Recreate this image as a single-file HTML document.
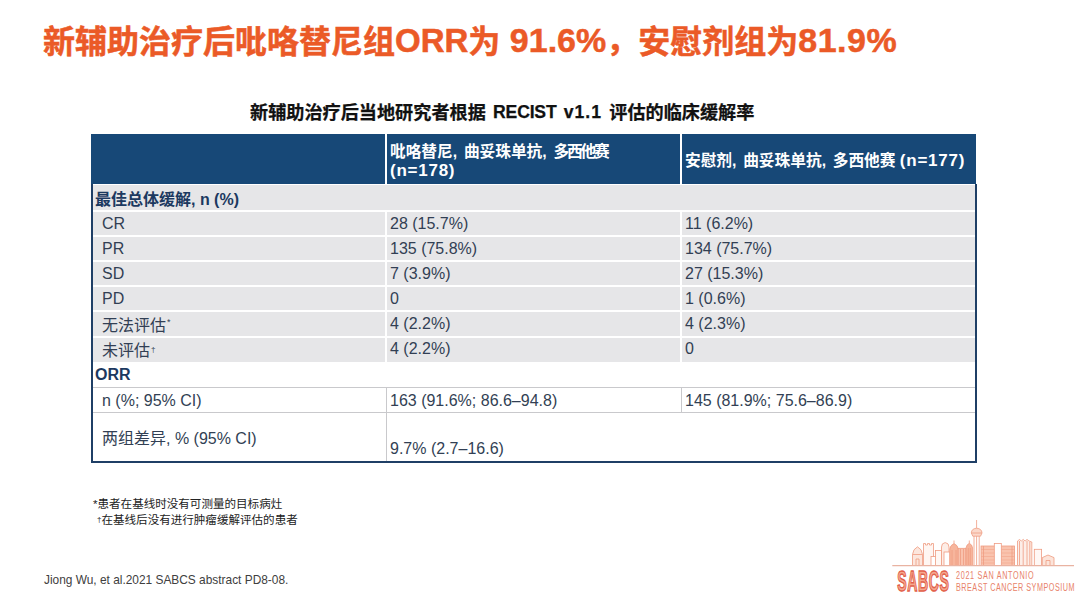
<!DOCTYPE html>
<html><head><meta charset="utf-8">
<style>
*{margin:0;padding:0;box-sizing:border-box}
html,body{width:1080px;height:597px;background:#fff;overflow:hidden}
body{position:relative;font-family:"Liberation Sans","Noto Sans CJK SC",sans-serif}
.abs{position:absolute;white-space:nowrap}
#title{left:43px;top:18px;font-size:32px;font-weight:bold;color:#EB5A27;-webkit-text-stroke:0.5px #EB5A27;line-height:46px}
#title .L{font-size:34px;position:relative;top:-1.5px}
#sub{left:250px;top:100.5px;font-size:18.15px;font-weight:bold;color:#111;-webkit-text-stroke:0.25px #111;line-height:24px}
#sub .L{font-size:17.6px;word-spacing:2.6px;letter-spacing:-0.2px;position:relative;top:-0.8px}
.hdr{position:absolute;top:134px;height:50px;background:#174877}
.htxt{position:absolute;color:#fff;font-weight:bold;font-size:15.7px;line-height:19px}
.htxt .c{letter-spacing:1.2px}
.htxt .L{font-size:17px;letter-spacing:0.75px}
.row{position:absolute;left:93px;width:882px;height:25px}
.g{background:#E6E6E8}
.hl{position:absolute;left:93px;width:882px;height:2px;background:#fff}
.vd{position:absolute;width:2px;background:#fff}
.cell{position:absolute;font-size:16px;color:#323F54;line-height:25px}
.b{font-weight:bold;color:#1C3960}
.sp{position:relative;font-size:8px;margin-left:1px}
.fn{font-size:11.55px;color:#222;line-height:16px}
</style></head><body>
<div id="title" class="abs">新辅助治疗后吡咯替尼组<span class="L" style="font-size:33px">ORR</span>为<span class="L"> 91.6%</span><span style="position:relative;top:-2px">，</span>安慰剂组为<span class="L" style="letter-spacing:0.5px">81.9%</span></div>
<div id="sub" class="abs">新辅助治疗后当地研究者根据<span class="L"> RECIST <span style="letter-spacing:1px">v1.1</span> </span>评估的临床缓解率</div>

<!-- header -->
<div class="hdr" style="left:91px;width:294px"></div>
<div class="hdr" style="left:387px;width:293px"></div>
<div class="hdr" style="left:682px;width:294px"></div>
<div class="htxt abs" style="left:390px;top:142px">吡咯替尼<span class="c">, </span>曲妥珠单抗<span class="c">, </span><span style="letter-spacing:-2.2px">多西他</span>赛<br><span class="L">(n=178)</span></div>
<div class="htxt abs" style="left:685px;top:151px">安慰剂<span class="c">, </span>曲妥珠单抗<span class="c">, </span>多西他赛 <span class="L">(n=177)</span></div>

<!-- grey rows -->
<div class="abs" style="left:93px;top:185px;width:882px;height:177px;background:#E6E6E8"></div>
<div class="hl" style="top:210px"></div>
<div class="hl" style="top:235px"></div>
<div class="hl" style="top:260px"></div>
<div class="hl" style="top:285px"></div>
<div class="hl" style="top:310px"></div>
<div class="hl" style="top:336px"></div>
<div class="vd" style="left:385px;top:211px;height:151px"></div>
<div class="vd" style="left:680px;top:211px;height:151px"></div>
<!-- white rows lines -->
<div class="abs" style="left:93px;top:387px;width:882px;height:1px;background:#C9C9CC"></div>
<div class="abs" style="left:93px;top:412px;width:882px;height:1px;background:#C9C9CC"></div>
<div class="abs" style="left:386px;top:387px;width:1px;height:75px;background:#C9C9CC"></div>
<div class="abs" style="left:681px;top:387px;width:1px;height:25px;background:#C9C9CC"></div>
<!-- borders -->
<div class="abs" style="left:91px;top:184px;width:2px;height:279px;background:#1F3F66"></div>
<div class="abs" style="left:975px;top:184px;width:2px;height:279px;background:#1F3F66"></div>
<div class="abs" style="left:91px;top:461px;width:886px;height:2px;background:#1F3F66"></div>

<!-- cells -->
<div class="cell b abs" style="left:95px;top:187px">最佳总体缓解, n (%)</div>
<div class="cell abs" style="left:102px;top:211px">CR</div>
<div class="cell abs" style="left:390px;top:211px">28 (15.7%)</div>
<div class="cell abs" style="left:685px;top:211px">11 (6.2%)</div>
<div class="cell abs" style="left:102px;top:236px">PR</div>
<div class="cell abs" style="left:390px;top:236px">135 (75.8%)</div>
<div class="cell abs" style="left:685px;top:236px">134 (75.7%)</div>
<div class="cell abs" style="left:102px;top:261px">SD</div>
<div class="cell abs" style="left:390px;top:261px">7 (3.9%)</div>
<div class="cell abs" style="left:685px;top:261px">27 (15.3%)</div>
<div class="cell abs" style="left:102px;top:286px">PD</div>
<div class="cell abs" style="left:390px;top:286px">0</div>
<div class="cell abs" style="left:685px;top:286px">1 (0.6%)</div>
<div class="cell abs" style="left:102px;top:312.5px">无法评估<span class="sp" style="top:-6px;font-size:9px">*</span></div>
<div class="cell abs" style="left:390px;top:311px">4 (2.2%)</div>
<div class="cell abs" style="left:685px;top:311px">4 (2.3%)</div>
<div class="cell abs" style="left:102px;top:337.5px">未评估<span class="sp" style="top:-3.5px">†</span></div>
<div class="cell abs" style="left:390px;top:336px">4 (2.2%)</div>
<div class="cell abs" style="left:685px;top:336px">0</div>
<div class="cell b abs" style="left:95px;top:362px">ORR</div>
<div class="cell abs" style="left:102px;top:388px">n (%; 95% CI)</div>
<div class="cell abs" style="left:390px;top:388px">163 (91.6%; 86.6–94.8)</div>
<div class="cell abs" style="left:685px;top:388px">145 (81.9%; 75.6–86.9)</div>
<div class="cell abs" style="left:102px;top:426px">两组差异, % (95% CI)</div>
<div class="cell abs" style="left:390px;top:436px">9.7% (2.7–16.6)</div>

<div class="fn abs" style="left:93px;top:495.5px">*患者在基线时没有可测量的目标病灶</div>
<div class="fn abs" style="left:97px;top:511.5px"><span style="font-size:8px;position:relative;top:-2px">†</span>在基线后没有进行肿瘤缓解评估的患者</div>
<div class="abs" style="left:44px;top:572px;font-size:11.9px;color:#404040;line-height:16px">Jiong Wu, et al.2021 SABCS abstract PD8-08.</div>


<svg class="abs" style="left:880px;top:510px" width="200" height="87" viewBox="880 510 200 87">
<g fill="none" stroke="#EF9C82" stroke-width="0.8">
<!-- 1 alamo -->
<path d="M912.5 565.5V554.5H922.5V565.5M912.5 554.5Q913 549 917.5 546.8Q922 549 922.5 554.5M916 565.5V559H919V565.5" fill="#FCE6DD"/>
<!-- 2 tall crenellated -->
<path d="M923.5 565.5V543.5H925.5V545H927.5V543.5H929.5V545H931.5V543.5H933.5V565.5" fill="#FFF6F2"/>
<!-- 3 low -->
<rect x="931" y="556.5" width="6.5" height="9" fill="#FFF"/>
<rect x="935.5" y="550.5" width="6" height="15" fill="#FFF8F4"/>
<!-- 4 dome tall -->
<path d="M941.5 565.5V547Q941.5 543 945.2 542.6Q949 543 949 547V565.5" fill="#FDEDE6"/>
<rect x="944" y="552" width="6" height="13.5" fill="#FFF"/>
<!-- 5 pointed filled -->
<path d="M949.8 565.5V549Q950 545.5 954 543.5Q958 545.5 958.2 549V565.5" fill="#F7B59C"/>
<path d="M954 543.5V540.5"/>
<path d="M952 550V565M956 550V565"/>
<!-- 6 flat filled -->
<rect x="958.2" y="548.3" width="7.8" height="17.2" fill="#F9C2AD"/>
<path d="M960.5 549V565M963.5 549V565"/>
<!-- 7 pointed -->
<path d="M966 565.5V548Q966.5 544.5 969.3 543.3Q972.2 544.5 972.6 548V565.5" fill="#F7B59C"/>
<path d="M969.3 543.3V540.5M968.3 548V565M970.3 548V565"/>
<!-- 8 tower -->
<path d="M976.6 520V528.5"/>
<path d="M971.3 533Q971.5 528.6 976.6 528.2Q981.8 528.6 982 533L980.5 536.2H972.8Z" fill="#FBD8CA"/>
<path d="M971.5 533H981.8"/>
<path d="M974 536.2V565.5M976.6 536.2V565.5M979.2 536.2V565.5"/>
<!-- 9 striped wide -->
<rect x="981" y="546" width="33.6" height="19.5" fill="#F9C3AE"/>
<path d="M981 549.5H1014.6M981 553H1014.6M981 556.5H1014.6M981 560H1014.6M981 563H1014.6" stroke-width="0.6" stroke="#F2A58C"/>
<path d="M983.5 546V565.5M1012 546V565.5"/>
<rect x="994.3" y="543.4" width="7" height="22.1" fill="#FFF"/>
<!-- 12 multi tower -->
<path d="M1017.5 565.5V541L1019.5 539.5L1021.3 541L1023.2 539.4L1025.1 541L1027 539.4L1029 541L1031.8 542V565.5" fill="#FDEEE8"/>
<path d="M1019.5 541V565.5M1023.2 541V565.5M1027 541V565.5M1029.8 542V565.5"/>
<!-- 13 -->
<rect x="1034.3" y="549.3" width="7.3" height="16.2" fill="#FFF8F5"/>
<!-- 14 house -->
<path d="M1042.3 565.5V557.6L1048 555L1054 557.6V565.5" fill="#FCE4DA"/>
<path d="M1046 565.5V560.5H1050V565.5"/>
</g>
<path d="M892.3 565.7H1074" stroke="#E9B3A2" stroke-width="1.3"/>
<g font-family="Liberation Sans" font-weight="bold" font-size="30">
<text transform="translate(897.3,591) scale(0.47,1)" textLength="109.6" lengthAdjust="spacing" fill="#F5A890" stroke="#E2604A" stroke-width="1.5">SABCS</text>
</g>
<g font-family="Liberation Sans" font-size="11.7" fill="#E8826A">
<text transform="translate(956,578.8) scale(0.62,1)" textLength="125.2" lengthAdjust="spacing">2021 SAN ANTONIO</text>
<text transform="translate(956,590.9) scale(0.62,1)" textLength="191.1" lengthAdjust="spacing">BREAST CANCER SYMPOSIUM</text>
</g>
</svg>
</body></html>
